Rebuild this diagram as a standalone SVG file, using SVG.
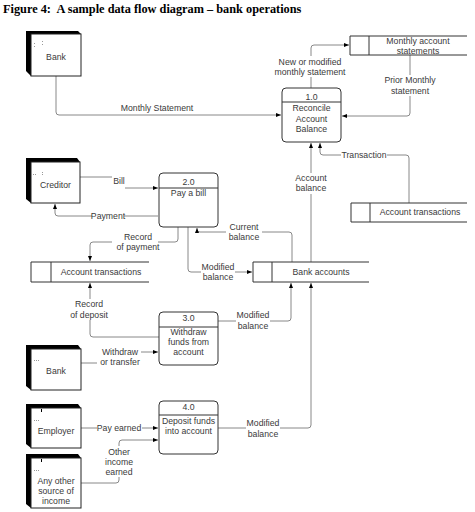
<svg xmlns="http://www.w3.org/2000/svg" width="475" height="512" viewBox="0 0 475 512">
<style>
text{font-family:"Liberation Sans",Arial,sans-serif;font-size:8.7px;fill:#3a3a3a;text-anchor:middle}
.title{font-family:"Liberation Serif","Times New Roman",serif;font-size:12.3px;font-weight:bold;fill:#000;text-anchor:start}
.proc{fill:#fff;stroke:#333;stroke-width:1}
.ds{fill:none;stroke:#333;stroke-width:1}
.front{fill:#fff;stroke:#222;stroke-width:1}
.shadow{fill:#000}
.dot{fill:#999}
.c{fill:none;stroke:#888;stroke-width:1;marker-end:url(#arr)}
.bg{fill:#fff}
</style>
<defs>
<marker id="arr" markerUnits="userSpaceOnUse" markerWidth="6" markerHeight="5" refX="5" refY="2" orient="auto">
<path d="M0,0 L5,2 L0,4 z" fill="#000"/>
</marker>
</defs>
<rect width="475" height="512" fill="#fff"/>
<text class="title" x="3" y="13" xml:space="preserve">Figure 4:  A sample data flow diagram – bank operations</text>

<g id="connectors">
<path class="c" d="M56,76 V112 Q56,115 59,115 H281"/>
<path class="c" d="M311,88 V48 Q311,45 314,45 H349"/>
<path class="c" d="M410,55 V113 Q410,116 407,116 H342"/>
<path class="c" d="M409,203 V158 Q409,155 406,155 H323 Q320,155 320,152 V143"/>
<path class="c" d="M311,262 V143"/>
<path class="c" d="M80,177 H112 M125,188 H158"/>
<path class="c" d="M158,216 H58 Q55,216 55,213 V204"/>
<path class="c" d="M178,227 V239 Q178,242 175,242 H93 Q90,242 90,245 V261"/>
<path class="c" d="M188,227 V269 Q188,272 191,272 H252"/>
<path class="c" d="M292,262 V235 Q292,232 289,232 H200 Q197,232 197,230 V228"/>
<path class="c" d="M159,337 H93 Q90,337 90,334 V283"/>
<path class="c" d="M218,321 H288 Q291,321 291,318 V283"/>
<path class="c" d="M81,363 H97 M141,352 H158"/>
<path class="c" d="M218,428 H308 Q311,428 311,425 V283"/>
<path class="c" d="M81,428 H158"/>
<path class="c" d="M81,483 H116 Q119,483 119,480 V477 M119,446 V443 Q119,440 122,440 H158"/>
<g id="labels">
<text x="157" y="111">Monthly Statement</text>
<rect class="bg" x="278" y="56" width="64" height="21"/>
<text x="310" y="64.5">New or modified</text>
<text x="310" y="74.5">monthly statement</text>
<rect class="bg" x="383" y="75" width="54" height="21"/>
<text x="410" y="83">Prior Monthly</text>
<text x="410" y="93.5">statement</text>
<rect class="bg" x="341" y="150" width="46" height="10"/>
<text x="364" y="158">Transaction</text>
<rect class="bg" x="294" y="173" width="34" height="21"/>
<text x="311" y="181">Account</text>
<text x="311" y="191">balance</text>
<text x="119" y="184">Bill</text>
<rect class="bg" x="92" y="211" width="32" height="10"/>
<text x="108" y="219">Payment</text>
<rect class="bg" x="112" y="232" width="46" height="21"/>
<text x="138" y="240">Record</text>
<text x="138" y="250">of payment</text>
<rect class="bg" x="201" y="262" width="34" height="21"/>
<text x="218" y="269.5">Modified</text>
<text x="218" y="279.5">balance</text>
<rect class="bg" x="226" y="222" width="36" height="21"/>
<text x="244" y="230">Current</text>
<text x="244" y="240">balance</text>
<rect class="bg" x="70" y="299" width="40" height="21"/>
<text x="89" y="307">Record</text>
<text x="89" y="317.5">of deposit</text>
<rect class="bg" x="236" y="310" width="34" height="21"/>
<text x="253" y="318">Modified</text>
<text x="253" y="328.5">balance</text>
<text x="120" y="354.5">Withdraw</text>
<text x="120" y="365">or transfer</text>
<rect class="bg" x="246" y="418" width="34" height="21"/>
<text x="263" y="426">Modified</text>
<text x="263" y="437">balance</text>
<rect class="bg" x="97" y="423" width="45" height="10"/>
<text x="119" y="430.5">Pay earned</text>
<text x="119" y="454.5">Other</text>
<text x="119" y="465">income</text>
<text x="119" y="475">earned</text>
</g>
</g>

<g id="p1">
<rect class="proc" x="282" y="88" width="59" height="54" rx="4"/>
<line class="ds" x1="282" y1="102" x2="341" y2="102"/>
<text x="311.5" y="100">1.0</text>
<text x="311.5" y="111">Reconcile</text>
<text x="311.5" y="122">Account</text>
<text x="311.5" y="132">Balance</text>
</g>
<g id="p2">
<rect class="proc" x="159" y="173" width="59" height="54" rx="4"/>
<line class="ds" x1="159" y1="188" x2="218" y2="188"/>
<text x="188.5" y="184.5">2.0</text>
<text x="188.5" y="196">Pay a bill</text>
</g>
<g id="p3">
<rect class="proc" x="159" y="312" width="59" height="53" rx="4"/>
<line class="ds" x1="159" y1="327" x2="218" y2="327"/>
<text x="188.5" y="321">3.0</text>
<text x="188.5" y="335">Withdraw</text>
<text x="188.5" y="345">funds from</text>
<text x="188.5" y="355">account</text>
</g>
<g id="p4">
<rect class="proc" x="159" y="401" width="59" height="53" rx="4"/>
<line class="ds" x1="159" y1="415" x2="218" y2="415"/>
<text x="188.5" y="409.5">4.0</text>
<text x="188.5" y="423.5">Deposit funds</text>
<text x="188.5" y="433.5">into account</text>
</g>

<g id="ds-monthly">
<path class="ds" d="M467,36 H350 V55 H467 M369,36 V55"/>
<text x="418" y="43.5">Monthly account</text>
<text x="418" y="54">statements</text>
</g>
<g id="ds-acct-right">
<path class="ds" d="M467,203 H351 V222 H467 M370,203 V222"/>
<text x="420" y="215">Account transactions</text>
</g>
<g id="ds-bank-accounts">
<path class="ds" d="M369,262 H253 V282 H369 M272,262 V282"/>
<text x="321" y="275">Bank accounts</text>
</g>
<g id="ds-acct-left">
<path class="ds" d="M149,262 H31 V282 H149 M51,262 V282"/>
<text x="101" y="275">Account transactions</text>
</g>

<g id="e-bank1">
<polygon class="shadow" points="26,31 78,31 81,34 31,34 31,76 26,71"/>
<rect class="front" x="31" y="34" width="50" height="42"/>
<rect class="dot" x="34" y="43" width="1" height="1"/><rect class="dot" x="34" y="46" width="1" height="1"/>
<rect class="dot" x="42" y="41" width="1" height="1"/><rect class="dot" x="42" y="44" width="1" height="1"/>
<text x="56" y="60">Bank</text>
</g>
<g id="e-creditor">
<polygon class="shadow" points="26,158 77,158 80,162 31,162 31,203 26,199"/>
<rect class="front" x="31" y="162" width="49" height="41"/>
<rect class="dot" x="33" y="174" width="1" height="1"/><rect class="dot" x="35" y="174" width="1" height="1"/>
<rect class="dot" x="42" y="172" width="1" height="1"/><rect class="dot" x="42" y="174" width="1" height="1"/>
<text x="55.5" y="188">Creditor</text>
</g>
<g id="e-bank2">
<polygon class="shadow" points="26,345 78,345 81,349 31,349 31,390 26,386"/>
<rect class="front" x="31" y="349" width="50" height="41"/>
<rect class="dot" x="34" y="360" width="1" height="1"/><rect class="dot" x="36" y="360" width="1" height="1"/><rect class="dot" x="38" y="360" width="1" height="1"/>
<text x="56" y="374">Bank</text>
</g>
<g id="e-employer">
<polygon class="shadow" points="26,404 78,404 81,408 31,408 31,448 26,444"/>
<rect class="front" x="31" y="408" width="50" height="40"/>
<rect class="shadow" x="41" y="409" width="1" height="3"/>
<rect class="dot" x="34" y="420" width="1" height="1"/><rect class="dot" x="36" y="420" width="1" height="1"/><rect class="dot" x="38" y="420" width="1" height="1"/>
<text x="56" y="434">Employer</text>
</g>
<g id="e-other">
<polygon class="shadow" points="26,454 78,454 81,458 31,458 31,508 26,504"/>
<rect class="front" x="31" y="458" width="50" height="50"/>
<rect class="shadow" x="41" y="459" width="1" height="3"/>
<rect class="dot" x="34" y="470" width="1" height="1"/><rect class="dot" x="36" y="470" width="1" height="1"/><rect class="dot" x="38" y="470" width="1" height="1"/>
<text x="56" y="484">Any other</text>
<text x="56" y="494">source of</text>
<text x="56" y="504">income</text>
</g>
</svg>
